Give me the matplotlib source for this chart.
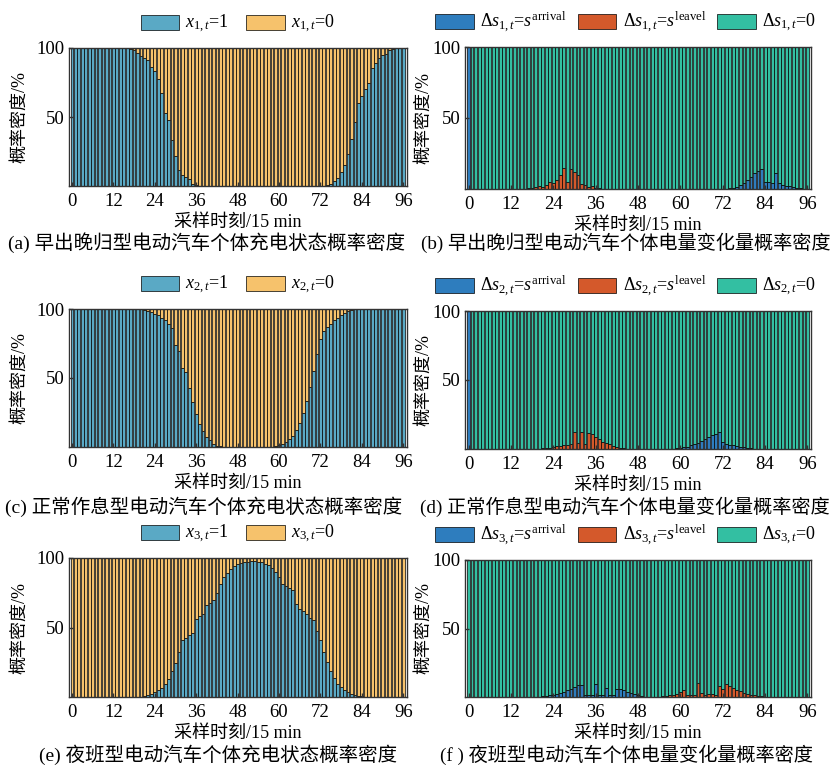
import numpy as np
import matplotlib.pyplot as plt
from matplotlib.ticker import FixedLocator

plt.rcParams['font.family'] = ['Liberation Serif', 'Noto Sans CJK SC']
plt.rcParams['mathtext.fontset'] = 'custom'
plt.rcParams['mathtext.rm'] = 'Liberation Serif'
plt.rcParams['mathtext.it'] = 'Liberation Serif:italic'

t = np.arange(97)   # sampling instants, 15 min each

# ---- probability (%) that the EV is in charging state x=1 ----
x1_on = ([100.0] * 17
         + [99.5, 98.3, 96.4, 94.2, 92.8, 91.1, 86.2, 83.1, 77.8, 67.6,
            53.0, 47.6, 33.6, 21.5, 11.4, 8.2, 6.5, 4.8, 1.7, 0.5]
         + [0.0] * 37
         + [0.5, 1.7, 3.4, 5.8, 10.1, 15.5, 23.4, 34.3, 46.4, 60.4,
            65.2, 70.0, 74.9, 85.7, 89.4, 92.8, 94.7, 95.9, 98.3, 99.5]
         + [100.0] * 3)

x2_on = ([100.0] * 21
         + [99.5, 98.8, 97.8, 96.6, 95.4, 93.7, 91.8, 89.4, 86.5, 73.7,
            69.3, 57.2, 54.3, 42.8, 32.6, 23.7, 16.7, 11.4, 7.5, 4.8,
            2.2, 1.0, 0.5]
         + [0.0] * 15
         + [0.7, 1.2, 2.4, 3.6, 5.6, 8.0, 12.6, 17.6, 24.6, 33.3,
            43.5, 55.1, 67.6, 78.0, 83.8, 87.0, 89.4, 91.8, 93.7, 95.4,
            97.1, 98.3, 99.3]
         + [100.0] * 15)

x3_on = ([0.0] * 21
         + [0.7, 1.2, 1.9, 3.6, 4.8, 6.7, 9.6, 13.2, 18.5, 24.7,
            32.4, 40.8, 42.7, 44.4, 46.0, 55.9, 58.3, 60.0, 66.0, 67.9,
            69.5, 75.0, 81.0, 86.3, 89.4, 92.3, 94.2, 95.9, 96.6, 97.1,
            97.4, 97.6, 97.6, 97.4, 97.1, 96.0]
         + [94.7, 92.8, 89.9, 86.3, 81.0, 79.9, 78.4, 76.7, 67.1, 63.5,
            61.6, 59.5, 56.8, 55.2, 47.2, 40.8, 32.4, 25.2, 18.7, 13.7,
            9.6, 7.2, 5.0, 3.6, 2.4, 1.4, 1.0, 0.5]
         + [0.0] * 12)

# ---- probability (%) of SOC change: arrival / leave ----
s1_arr = ([100.0] + [0.0] * 73
          + [0.5, 1.0, 1.6, 3.0, 4.5, 6.0, 8.7, 11.0, 12.9, 14.3,
             5.0, 5.0, 4.5, 11.5, 4.0, 3.0, 2.0, 2.3, 1.2, 0.8,
             0.5, 0.3]
          + [0.0])
s1_lea = ([0.0] * 17
          + [0.5, 0.8, 1.2, 2.0, 1.5, 2.5, 5.0, 4.0, 6.0, 10.0,
             15.0, 5.0, 14.0, 12.0, 10.0, 3.5, 2.5, 1.5, 2.0, 1.0,
             0.5]
          + [0.0] * 59)

s2_arr = ([100.0] + [0.0] * 58
          + [0.5, 1.0, 1.2, 1.7, 2.9, 3.6, 4.6, 5.8, 7.0, 8.9,
             9.9, 10.9, 12.1, 5.3, 3.4, 3.1, 2.6, 2.2, 1.7, 1.2,
             0.7, 0.5]
          + [0.0] * 16)
s2_lea = ([0.0] * 21
          + [0.5, 0.7, 1.0, 1.7, 2.0, 2.4, 3.0, 3.0, 3.4, 12.6,
             4.6, 12.0, 3.4, 11.6, 10.9, 8.5, 7.0, 5.3, 4.6, 3.4,
             2.4, 1.7, 1.0, 0.5]
          + [0.0] * 52)

s3_arr = ([0.0] * 20
          + [0.2, 0.5, 0.7, 1.2, 1.7, 2.2, 2.9, 3.7, 4.9, 6.1,
             7.3, 8.5, 9.0, 1.7, 1.7, 1.7, 9.8, 1.7, 1.7, 6.6,
             1.2, 1.7, 5.6, 6.1, 4.9, 3.7, 2.9, 2.2, 1.2, 0.7,
             0.3]
          + [0.0] * 46)
s3_lea = ([0.0] * 55
          + [0.5, 0.7, 1.2, 1.7, 2.2, 3.7, 5.4, 1.7, 1.2, 1.7,
             10.2, 3.2, 1.7, 2.0, 2.4, 1.7, 8.0, 6.1, 9.3, 7.8,
             6.6, 5.4, 4.4, 3.2, 2.4, 1.7, 1.2, 0.7, 0.5, 0.3]
          + [0.0] * 12)

captions_state = ['(a) 早出晚归型电动汽车个体充电状态概率密度',
                  '(c) 正常作息型电动汽车个体充电状态概率密度',
                  '(e) 夜班型电动汽车个体充电状态概率密度']
captions_soc = ['(b) 早出晚归型电动汽车个体电量变化量概率密度',
                '(d) 正常作息型电动汽车个体电量变化量概率密度',
                '(f ) 夜班型电动汽车个体电量变化量概率密度']

c_on, c_off = '#5AA9C5', '#F6C26C'
c_arr, c_lea, c_zero = '#2E7DBE', '#D4592B', '#33BFA2'

W, H = 833, 765
fig = plt.figure(figsize=(W / 100, H / 100), dpi=100)


def px_axes(x0, y0, x1, y1):
    return fig.add_axes([x0 / W, 1 - y1 / H, (x1 - x0) / W, (y1 - y0) / H])


def style(ax, ylab_x):
    ax.set_xlim(-1, 97)
    ax.set_ylim(0, 100)
    ax.xaxis.set_major_locator(FixedLocator(np.arange(0, 97, 12)))
    ax.set_yticks([50, 100])
    ax.tick_params(direction='in', length=3, width=1, labelsize=13.5,
                   color='#333333')
    ax.tick_params(axis='x', pad=5)
    ax.tick_params(axis='y', pad=3)
    for sp in ax.spines.values():
        sp.set_linewidth(1.0)
        sp.set_color('#333333')
    ax.set_xlabel('采样时刻/15 min', fontsize=13, labelpad=3)
    ax.set_ylabel('概率密度/%', fontsize=13)
    ax.yaxis.set_label_coords(ylab_x, 0.5)


def legend(ax, ncol, xc, pad, spacing):
    ax.legend(loc='lower center', bbox_to_anchor=(xc, 1.0), ncol=ncol,
              frameon=False, fontsize=13, handlelength=2.15,
              handleheight=0.9, handletextpad=pad, columnspacing=spacing,
              borderaxespad=0.3)


rows_left = [(48, 186), (309, 447), (558, 697)]
rows_right = [(47, 189), (311, 449), (560, 697)]
cap_y = [243, 507, 755]
cap_x_left = [207, 204, 218]
cap_x_right = [626, 625, 626]

for k, on in enumerate([x1_on, x2_on, x3_on]):
    on = np.array(on)
    ax = px_axes(68.5, rows_left[k][0], 406.7, rows_left[k][1])
    ax.bar(t, on, 0.8, color=c_on, edgecolor='k', linewidth=0.5,
           label=r'$x_{%d,t}$=1' % (k + 1))
    ax.bar(t, 100 - on, 0.8, bottom=on, color=c_off, edgecolor='k',
           linewidth=0.5, label=r'$x_{%d,t}$=0' % (k + 1))
    style(ax, -0.118)
    legend(ax, 2, 0.5, 0.3, 1.0)
    fig.text(cap_x_left[k] / W, 1 - cap_y[k] / H, captions_state[k],
             fontsize=14, ha='center', va='center')

for k, (arr, lea) in enumerate([(s1_arr, s1_lea), (s2_arr, s2_lea),
                                (s3_arr, s3_lea)]):
    arr, lea = np.array(arr), np.array(lea)
    ax = px_axes(465, rows_right[k][0], 811, rows_right[k][1])
    n = k + 1
    ax.bar(t, arr, 0.8, color=c_arr, edgecolor='k', linewidth=0.5,
           label=r'Δ$s_{%d,t}$=$s^{\rm arrival}$' % n)
    ax.bar(t, lea, 0.8, bottom=arr, color=c_lea, edgecolor='k',
           linewidth=0.5, label=r'Δ$s_{%d,t}$=$s^{\rm leavel}$' % n)
    ax.bar(t, 100 - arr - lea, 0.8, bottom=arr + lea, color=c_zero,
           edgecolor='k', linewidth=0.5, label=r'Δ$s_{%d,t}$=0' % n)
    style(ax, -0.095)
    legend(ax, 3, 0.465, 0.35, 0.6)
    fig.text(cap_x_right[k] / W, 1 - cap_y[k] / H, captions_soc[k],
             fontsize=13.8, ha='center', va='center')

fig.savefig('out.png', dpi=100)
